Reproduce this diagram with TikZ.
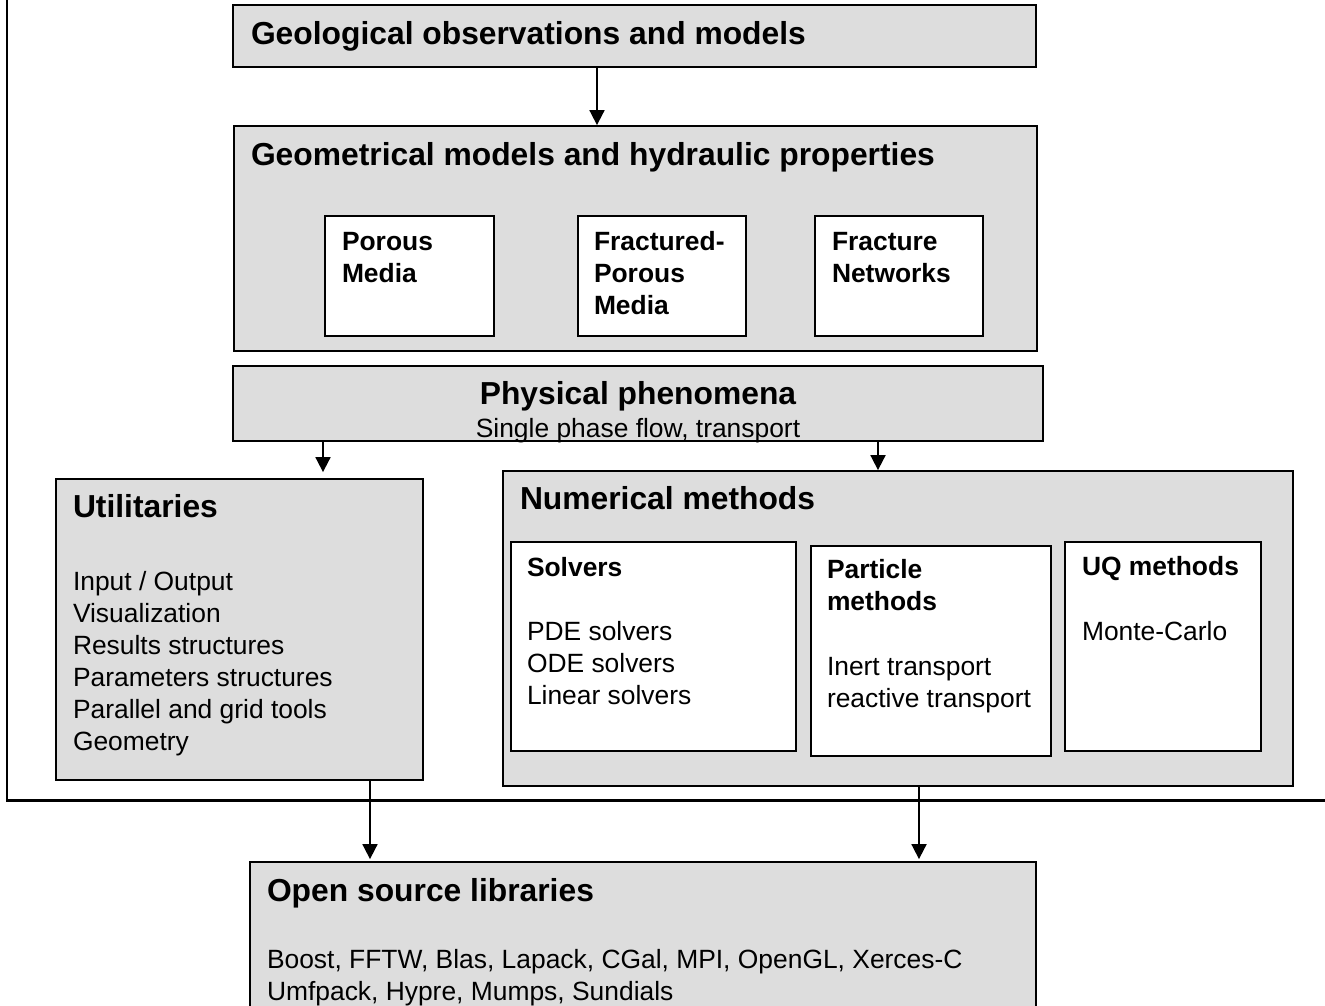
\documentclass[tikz,border=0pt]{standalone}
\usepackage{fontspec}
\setmainfont{Liberation Sans}
\usetikzlibrary{arrows.meta,calc}
\definecolor{boxgray}{RGB}{221,221,221}
\newcommand\bodyf{\fontsize{26.4pt}{32pt}\selectfont}
\newcommand\headf{\fontsize{31.8pt}{38pt}\selectfont\bfseries}
\newcommand\subf{\fontsize{26.4pt}{32pt}\selectfont\bfseries}
\newcommand\blk[2]{\begin{minipage}[t]{#1pt}#2\end{minipage}}
\begin{document}
\begin{tikzpicture}[x=1pt,y=-1pt,
  gbox/.style={draw,fill=boxgray,line width=1.8pt,rectangle,inner sep=0pt},
  wbox/.style={draw,fill=white,line width=1.4pt,rectangle,inner sep=0pt},
  txt/.style={anchor=base west,inner sep=0pt,outer sep=0pt},
  ctxt/.style={anchor=base,inner sep=0pt,outer sep=0pt},
  arr/.style={line width=1.8pt,-{Triangle[width=15pt,length=15pt]}},
  frameline/.style={line width=2.4pt}]
\useasboundingbox (0,0) rectangle (1325,1006);
\clip (0,0) rectangle (1325,1006);
\fill[white] (0,0) rectangle (1325,1006);

% outer frame (partially visible)
\coordinate (ftop) at (7,-10);
\coordinate (fcorner) at (7,800.5);
\coordinate (fright) at (1340,800.5);
\draw[frameline] (ftop) -- (fcorner) -- (fright);

% gray boxes
\node[gbox,minimum width=803pt,minimum height=62pt] (geo) at (634.5,36) {};
\node[gbox,minimum width=803pt,minimum height=225pt] (geom) at (635.5,238.5) {};
\node[gbox,minimum width=810pt,minimum height=75pt] (phys) at (638,403.5) {};
\node[gbox,minimum width=367pt,minimum height=301pt] (util) at (239.5,629.5) {};
\node[gbox,minimum width=790pt,minimum height=315pt] (num) at (898,628.5) {};
\node[gbox,minimum width=786pt,minimum height=168pt] (open) at (643,946) {};

% white boxes
\node[wbox,minimum width=169pt,minimum height=120pt] (porous) at (409.5,276) {};
\node[wbox,minimum width=168pt,minimum height=120pt] (fpm) at (662,276) {};
\node[wbox,minimum width=168pt,minimum height=120pt] (fnet) at (899,276) {};
\node[wbox,minimum width=285pt,minimum height=209pt] (solv) at (653.5,646.5) {};
\node[wbox,minimum width=240pt,minimum height=210pt] (part) at (931,651) {};
\node[wbox,minimum width=196pt,minimum height=209pt] (uq) at (1163,646.5) {};

% texts
\node[txt,font=\headf] (geoT) at (251,45) {Geological observations and models};
\node[txt,font=\headf] (geomT) at (251,165) {Geometrical models and hydraulic properties};
\node[txt,font=\subf] (porT) at (342,250) {\blk{140}{Porous\\Media}};
\node[txt,font=\subf] (fpmT) at (594,250) {\blk{140}{Fractured-\\Porous\\Media}};
\node[txt,font=\subf] (fnetT) at (832,250) {\blk{140}{Fracture\\Networks}};
\node[ctxt,font=\headf] (physT) at (638,404) {Physical phenomena};
\node[ctxt,font=\bodyf] (physS) at (638,437) {Single phase flow, transport};
\node[txt,font=\headf] (utilT) at (73,517) {Utilitaries};
\node[txt,font=\bodyf] (utilL) at (73,590) {\blk{340}{Input / Output\\Visualization\\Results structures\\Parameters structures\\Parallel and grid tools\\Geometry}};
\node[txt,font=\headf] (numT) at (520,509) {Numerical methods};
\node[txt,font=\bodyf] (solvT) at (527,576) {\blk{260}{\textbf{Solvers}\\[32pt]PDE solvers\\ODE solvers\\Linear solvers}};
\node[txt,font=\bodyf] (partT) at (827,578) {\blk{220}{\textbf{Particle}\\\textbf{methods}\\[33pt]Inert transport\\reactive transport}};
\node[txt,font=\bodyf] (uqT) at (1082,575) {\blk{170}{\textbf{UQ methods}\\[33pt]Monte-Carlo}};
\node[txt,font=\headf] (openT) at (267,901) {Open source libraries};
\node[txt,font=\bodyf] (openL) at (267,968) {\blk{760}{Boost, FFTW, Blas, Lapack, CGal, MPI, OpenGL, Xerces-C\\Umfpack, Hypre, Mumps, Sundials}};

% connectors
\draw[arr] ([xshift=-37.5pt]geo.south) -- ($(geo.south |- geom.north)+(-37.5,0)$);
\draw[arr] ([xshift=-315pt]phys.south) -- ($(phys.south |- util.north)+(-315,-6)$);
\draw[arr] ([xshift=240pt]phys.south) -- ($(phys.south |- num.north)+(240,0)$);
\draw[arr] ([xshift=130.5pt]util.south) -- ($(util.south |- open.north)+(130.5,-2)$);
\draw[arr] ([xshift=21pt]num.south) -- ($(num.south |- open.north)+(21,-2)$);
\end{tikzpicture}
\end{document}
